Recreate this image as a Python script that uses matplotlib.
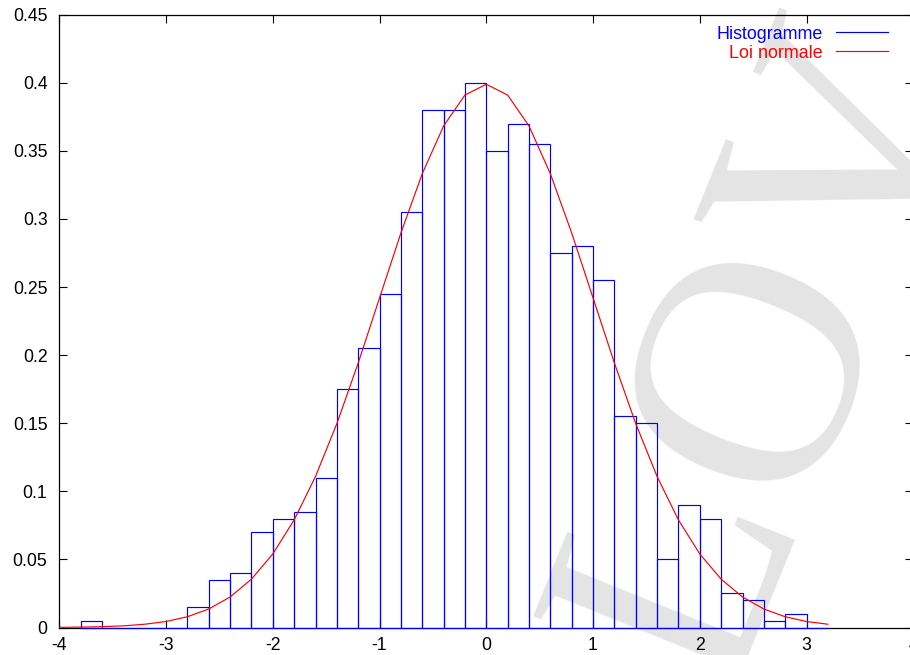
import matplotlib
matplotlib.use("Agg")
import matplotlib.pyplot as plt
from matplotlib.lines import Line2D

plt.rcParams['font.family'] = ['Liberation Sans', 'DejaVu Sans']
plt.rcParams['axes.unicode_minus'] = False

# ---- data ----
bin_left = [-3.8, -3.6, -3.4, -3.2, -3.0, -2.8, -2.6, -2.4, -2.2, -2.0,
            -1.8, -1.6, -1.4, -1.2, -1.0, -0.8, -0.6, -0.4, -0.2, 0.0,
            0.2, 0.4, 0.6, 0.8, 1.0, 1.2, 1.4, 1.6, 1.8, 2.0,
            2.2, 2.4, 2.6, 2.8, 3.0]
hist_density = [0.005, 0.0, 0.0, 0.0, 0.0, 0.015, 0.035, 0.04, 0.07, 0.08,
                0.085, 0.11, 0.175, 0.205, 0.245, 0.305, 0.38, 0.38, 0.40, 0.35,
                0.37, 0.355, 0.275, 0.28, 0.255, 0.155, 0.15, 0.05, 0.09, 0.08,
                0.025, 0.02, 0.005, 0.01, 0.0]
bin_width = 0.2

curve_x = [-4.0, -3.8, -3.6, -3.4, -3.2, -3.0, -2.8, -2.6, -2.4, -2.2,
           -2.0, -1.8, -1.6, -1.4, -1.2, -1.0, -0.8, -0.6, -0.4, -0.2,
           0.0, 0.2, 0.4, 0.6, 0.8, 1.0, 1.2, 1.4, 1.6, 1.8,
           2.0, 2.2, 2.4, 2.6, 2.8, 3.0, 3.2]
curve_y = [0.0001, 0.0003, 0.0006, 0.0012, 0.0024, 0.0044, 0.0079, 0.0136, 0.0224, 0.0355,
           0.0540, 0.0790, 0.1109, 0.1497, 0.1942, 0.2420, 0.2897, 0.3332, 0.3683, 0.3910,
           0.3989, 0.3910, 0.3683, 0.3332, 0.2897, 0.2420, 0.1942, 0.1497, 0.1109, 0.0790,
           0.0540, 0.0355, 0.0224, 0.0136, 0.0079, 0.0044, 0.0024]

x_ticks = [-4, -3, -2, -1, 0, 1, 2, 3, 4]
x_tick_labels = ['-4', '-3', '-2', '-1', '0', '1', '2', '3', '4']
y_ticks = [0, 0.05, 0.1, 0.15, 0.2, 0.25, 0.3, 0.35, 0.4, 0.45]
y_tick_labels = ['0', '0.05', '0.1', '0.15', '0.2', '0.25', '0.3', '0.35', '0.4', '0.45']

legend_labels = ['Histogramme', 'Loi normale']
legend_colors = ['#0000ff', '#ff0000']
watermark = 'LOV'

# ---- figure ----
W, H = 910, 655
fig = plt.figure(figsize=(W / 100, H / 100), dpi=100)
ax_l, ax_r, ax_t, ax_b = 59.3, 913.3, 14.7, 627.5
ax = fig.add_axes([ax_l / W, (H - ax_b) / H, (ax_r - ax_l) / W, (ax_b - ax_t) / H])
ax.patch.set_alpha(0)

# watermark (light grey serif letters behind the plot)
fig.text(743 / W, 1 - 343 / H, watermark, fontsize=235, family='Liberation Serif',
         color='#e4e4e4', rotation=68, rotation_mode='anchor',
         ha='center', va='center_baseline', zorder=-5)

ax.bar(bin_left, hist_density, width=bin_width, align='edge', fill=False,
       edgecolor=legend_colors[0], linewidth=0.85, zorder=3, clip_on=False)
ax.plot(curve_x, curve_y, color=legend_colors[1], linewidth=0.85, zorder=4)

ax.set_xlim(-4, 4)
ax.set_ylim(0, 0.45)
ax.set_xticks(x_ticks)
ax.set_xticklabels(x_tick_labels)
ax.set_yticks(y_ticks)
ax.set_yticklabels(y_tick_labels)
ax.tick_params(direction='in', length=6, width=0.8, top=True, right=True,
               labelsize=12.7, pad=7, colors='black')
ax.tick_params(axis='y', pad=8.5)
for s in ax.spines.values():
    s.set_linewidth(0.9)
    s.set_zorder(2)

# legend (gnuplot style: text right-aligned, sample line on its right)
def px_to_ax(px, py):
    return (px - ax_l) / (ax_r - ax_l), (ax_b - py) / (ax_b - ax_t)

for lab, col, base_y, line_y in zip(legend_labels, legend_colors, [39.0, 58.3], [32.3, 51.0]):
    tx, ty = px_to_ax(822.7, base_y)
    ax.text(tx, ty, lab, color=col, fontsize=12.9, ha='right', va='baseline',
            transform=ax.transAxes)
    lx0, ly = px_to_ax(835.7, line_y)
    lx1, _ = px_to_ax(888.3, line_y)
    ax.add_line(Line2D([lx0, lx1], [ly, ly], color=col, linewidth=0.85,
                       transform=ax.transAxes))

fig.savefig('out.png', dpi=100)
